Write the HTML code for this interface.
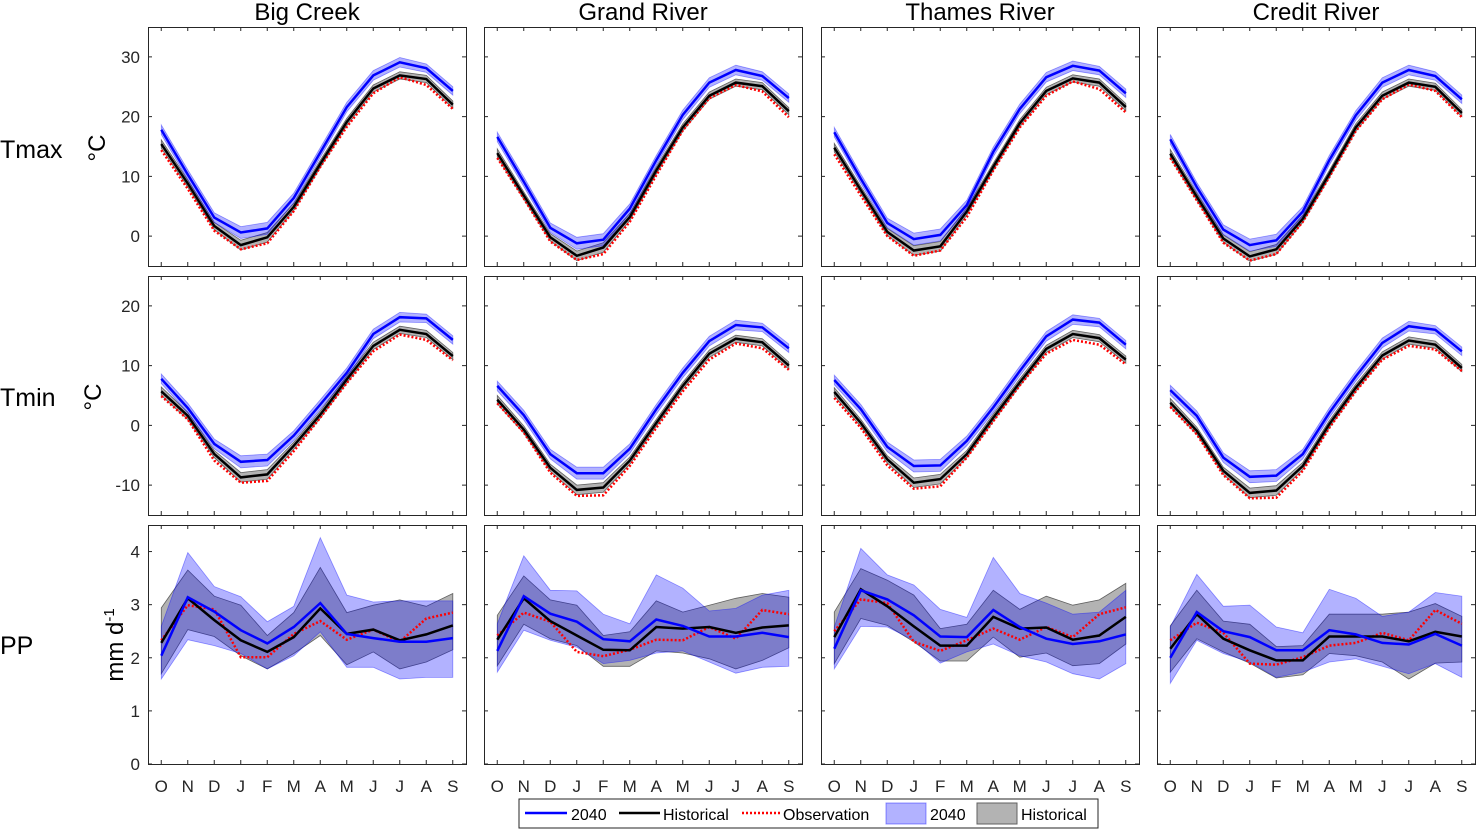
<!DOCTYPE html>
<html><head><meta charset="utf-8"><style>
html,body{margin:0;padding:0;background:#fff;}
svg{display:block;font-family:"Liberation Sans",Arial,sans-serif;}
</style></head><body>
<svg id="fig" width="1476" height="829" viewBox="0 0 1476 829">
<g id="panels"></g>
<g>
<rect x="519" y="799" width="579" height="29" fill="#fff" stroke="#262626" stroke-width="1"/>
<g><line x1="525" y1="813" x2="567" y2="813" stroke="#0000ff" stroke-width="2.5"/><text x="571" y="820" font-size="16" fill="#000">2040</text></g>
<g><line x1="619" y1="813" x2="660" y2="813" stroke="#000" stroke-width="2.5"/><text x="663" y="820" font-size="16" fill="#000">Historical</text></g>
<g><line x1="742" y1="813" x2="780" y2="813" stroke="#ff0000" stroke-width="2.5" stroke-dasharray="2 2"/><text x="783" y="820" font-size="16" fill="#000">Observation</text></g>
<g><rect x="886" y="803" width="40" height="21" fill="#0000ff" fill-opacity="0.3" stroke="#0000ff" stroke-opacity="0.4"/><text x="930" y="820" font-size="16" fill="#000">2040</text></g>
<g><rect x="977" y="803" width="40" height="21" fill="#808080" fill-opacity="0.6" stroke="#606060"/><text x="1021" y="820" font-size="16" fill="#000">Historical</text></g>
</g>
</svg>
<script>
const rivers=['Big Creek','Grand River','Thames River','Credit River'];
const months=['O','N','D','J','F','M','A','M','J','J','A','S'];
const tmaxTicks=[0,10,20,30];
const tminTicks=[-10,0,10,20];
const ppTicks=[0,1,2,3,4];

const tmax2040=[[17.8,10.3,3.1,0.6,1.3,6.4,14.0,21.6,26.9,29.1,28.1,24.3],[16.6,9.1,1.4,-1.2,-0.6,4.6,12.7,20.3,25.7,27.8,26.8,23.1],[17.4,9.6,2.2,-0.5,0.2,5.2,14.1,21.3,26.6,28.5,27.7,23.9],[16.2,8.2,1.1,-1.5,-0.7,4.1,12.7,20.2,25.7,27.8,26.8,22.9]];
const tmaxHist=[[15.4,8.8,1.7,-1.5,-0.2,4.9,12.1,19.1,24.7,26.9,26.3,22.0],[13.9,6.8,-0.2,-3.3,-1.9,3.2,11.0,18.2,23.5,25.7,25.1,20.9],[14.8,7.7,0.7,-2.4,-1.7,4.1,11.6,18.9,24.3,26.4,25.7,21.6],[13.8,6.6,-0.4,-3.4,-2.2,2.9,10.4,18.2,23.5,25.7,25.0,20.6]];
const tmaxObs=[[14.4,7.9,0.9,-2.2,-1.2,4.2,11.6,18.3,23.9,26.6,25.3,21.3],[13.1,6.3,-0.9,-4.0,-3.0,2.4,10.2,17.7,23.1,25.3,24.2,19.9],[13.7,6.8,0.0,-3.3,-2.4,3.2,11.0,18.2,23.5,25.9,24.6,20.7],[13.1,6.0,-1.1,-4.1,-3.0,2.4,9.9,17.6,22.9,25.4,24.3,19.9]];

const tmin2040=[[7.8,2.9,-3.1,-6.1,-5.8,-1.7,3.5,8.8,15.3,18.1,17.9,14.3],[6.6,1.7,-4.8,-8.0,-8.0,-3.9,2.7,8.8,14.1,16.8,16.4,12.9],[7.6,2.7,-3.6,-6.8,-6.7,-2.6,3.0,9.1,14.9,17.7,17.2,13.5],[5.9,1.6,-5.4,-8.6,-8.4,-4.8,2.1,8.2,13.8,16.6,16.0,12.4]];
const tminHist=[[5.7,1.6,-4.8,-8.7,-8.2,-3.4,1.8,7.7,13.3,16.0,15.3,11.6],[4.3,-0.7,-7.1,-10.8,-10.4,-5.9,0.4,6.6,12.0,14.5,13.9,10.0],[5.6,0.4,-5.7,-9.6,-9.0,-4.8,1.3,7.2,12.8,15.3,14.6,11.0],[3.8,-0.9,-7.6,-11.3,-10.9,-6.8,0.2,6.3,11.7,14.2,13.5,9.6]];
const tminObs=[[4.9,1.0,-5.9,-9.6,-9.3,-4.3,1.3,7.1,12.4,15.2,14.3,10.9],[3.7,-1.2,-7.9,-11.8,-11.7,-6.8,-0.4,5.7,11.0,13.7,12.9,9.3],[4.6,-0.4,-6.7,-10.6,-10.2,-5.4,0.7,6.7,12.0,14.3,13.5,10.2],[3.1,-1.5,-8.3,-12.2,-12.1,-7.6,-0.4,5.7,11.0,13.3,12.7,9.1]];

const tSpread2040=[0.8,0.8,0.8,1.0,1.0,0.8,0.8,0.8,0.8,0.8,0.7,0.7];
const tSpreadHist=[0.7,0.6,0.6,0.8,0.8,0.6,0.6,0.6,0.6,0.6,0.6,0.6];

const pp2040=[[2.04,3.14,2.87,2.52,2.27,2.58,3.03,2.45,2.37,2.30,2.30,2.37],[2.13,3.16,2.83,2.68,2.35,2.31,2.72,2.60,2.40,2.40,2.47,2.39],[2.17,3.27,3.10,2.80,2.40,2.39,2.90,2.58,2.36,2.26,2.31,2.44],[2.00,2.86,2.50,2.39,2.14,2.14,2.52,2.44,2.28,2.25,2.45,2.23]];
const ppHist=[[2.28,3.12,2.71,2.33,2.11,2.39,2.93,2.45,2.53,2.33,2.44,2.61],[2.34,3.12,2.69,2.42,2.15,2.14,2.58,2.55,2.58,2.47,2.57,2.61],[2.39,3.29,2.97,2.59,2.23,2.23,2.77,2.55,2.57,2.34,2.42,2.77],[2.17,2.82,2.36,2.14,1.95,1.95,2.40,2.40,2.40,2.31,2.49,2.40]];
const ppObs=[[2.33,2.99,2.91,2.01,2.01,2.45,2.69,2.34,2.53,2.30,2.74,2.85],[2.42,2.85,2.68,2.11,2.03,2.15,2.34,2.33,2.58,2.36,2.90,2.82],[2.50,3.10,3.03,2.30,2.13,2.33,2.55,2.34,2.58,2.39,2.82,2.95],[2.33,2.66,2.47,1.89,1.87,2.01,2.23,2.28,2.47,2.33,2.90,2.64]];
const pp2040Upper=[[2.59,3.98,3.34,3.15,2.68,2.97,4.26,3.18,3.05,3.07,3.07,3.07],[2.64,3.92,3.27,3.26,2.82,2.64,3.56,3.31,2.88,2.93,3.18,3.27],[2.58,4.06,3.56,3.37,2.91,2.76,3.89,3.21,3.03,2.82,2.86,3.27],[2.58,3.57,2.97,2.99,2.58,2.47,3.29,3.12,2.78,2.86,3.23,3.16]];
const pp2040Lower=[[1.60,2.34,2.23,2.08,1.79,2.04,2.49,1.82,1.82,1.60,1.63,1.63],[1.73,2.52,2.33,2.20,1.89,1.95,2.09,2.13,1.92,1.71,1.82,1.84],[1.79,2.59,2.58,2.33,1.90,2.11,2.26,2.04,1.92,1.70,1.60,1.89],[1.52,2.33,2.08,1.92,1.63,1.73,1.92,1.98,1.84,1.70,1.89,1.63]];
const ppHistUpper=[[2.94,3.65,3.16,2.99,2.42,2.85,3.70,2.85,2.99,3.09,2.97,3.21],[2.80,3.54,3.09,2.99,2.42,2.49,3.07,2.86,2.99,3.12,3.21,3.14],[2.86,3.68,3.46,3.18,2.55,2.63,3.27,2.91,3.16,2.99,3.09,3.40],[2.60,3.27,2.69,2.63,2.21,2.23,2.82,2.82,2.82,2.86,3.02,2.78]];
const ppHistLower=[[1.70,2.53,2.40,2.04,1.79,2.08,2.42,1.87,2.11,1.79,1.92,2.15],[1.85,2.63,2.36,2.23,1.84,1.84,2.13,2.09,1.98,1.79,1.95,2.19],[1.89,2.74,2.61,2.30,1.94,1.94,2.39,2.01,2.09,1.85,1.89,2.26],[1.73,2.36,2.11,1.90,1.62,1.68,2.08,2.04,1.92,1.60,1.90,1.92]];

const NS='http://www.w3.org/2000/svg';
const root=document.getElementById('panels');
const colX=[148,484,821,1157], PW=318;
const rowY=[27,276,525], PH=239;
const rowsDef=[
 {key:'tmax',min:-5,max:35,ticks:tmaxTicks},
 {key:'tmin',min:-15,max:25,ticks:tminTicks},
 {key:'pp',min:0,max:4.5,ticks:ppTicks}
];
function el(tag,attrs,parent){const e=document.createElementNS(NS,tag);for(const k in attrs)e.setAttribute(k,attrs[k]);(parent||root).appendChild(e);return e;}
function pts(arr,xs,ys){return arr.map((v,i)=>xs(i).toFixed(1)+','+ys(v).toFixed(1)).join(' ');}
function band(up,lo,xs,ys){return pts(up,xs,ys)+' '+lo.map((v,i)=>[i,v]).reverse().map(p=>xs(p[0]).toFixed(1)+','+ys(p[1]).toFixed(1)).join(' ');}

rowsDef.forEach((rd,r)=>{
 rivers.forEach((rv,c)=>{
  const px=colX[c], py=rowY[r];
  const xs=i=>px+(i+0.5)/12*PW;
  const ys=v=>py+PH-(v-rd.min)/(rd.max-rd.min)*PH;
  const g=el('g',{});
  
  
  const clip='clip'+r+c;
  const cp=el('clipPath',{id:clip},g); el('rect',{x:px,y:py,width:PW,height:PH},cp);
  const plot=el('g',{'clip-path':'url(#'+clip+')'},g);
  let m2040,mHist,mObs,u40,l40,uH,lH;
  if(rd.key==='pp'){m2040=pp2040[c];mHist=ppHist[c];mObs=ppObs[c];u40=pp2040Upper[c];l40=pp2040Lower[c];uH=ppHistUpper[c];lH=ppHistLower[c];}
  else{
   const A=rd.key==='tmax'?[tmax2040,tmaxHist,tmaxObs]:[tmin2040,tminHist,tminObs];
   m2040=A[0][c];mHist=A[1][c];mObs=A[2][c];
   u40=m2040.map((v,i)=>v+tSpread2040[i]);l40=m2040.map((v,i)=>v-tSpread2040[i]);
   uH=mHist.map((v,i)=>v+tSpreadHist[i]);lH=mHist.map((v,i)=>v-tSpreadHist[i]);
  }
  const hb=el('polygon',{points:band(uH,lH,xs,ys),fill:'#808080','fill-opacity':0.6,stroke:'#606060','stroke-width':0.8},plot);
  
  
  const bb=el('polygon',{points:band(u40,l40,xs,ys),fill:'#0000ff','fill-opacity':0.3,stroke:'#0000ff','stroke-opacity':0.4,'stroke-width':0.8},plot);
  
  
  const lo=el('polyline',{points:pts(mObs,xs,ys),fill:'none',stroke:'#ff0000','stroke-width':2.5,'stroke-dasharray':'2 2'},plot);
  
  
  const lh=el('polyline',{points:pts(mHist,xs,ys),fill:'none',stroke:'#000','stroke-width':2.5},plot);
  
  
  const lb=el('polyline',{points:pts(m2040,xs,ys),fill:'none',stroke:'#0000ff','stroke-width':2.5},plot);
  
  
  const box=el('rect',{x:px+0.5,y:py+0.5,width:PW,height:PH,fill:'none',stroke:'#262626','stroke-width':1},g);
  
  
  months.forEach((m,i)=>{
   const x=xs(i);
   el('line',{x1:x,y1:py+PH,x2:x,y2:py+PH-4,stroke:'#262626'},g);
   el('line',{x1:x,y1:py,x2:x,y2:py+4,stroke:'#262626'},g);
   if(r===2){
    const t=el('text',{x:x,y:792,'font-size':17,'text-anchor':'middle',fill:'#262626'},g);
    t.textContent=m;
    
    
   }
  });
  rd.ticks.forEach(v=>{
   const y=ys(v);
   el('line',{x1:px,y1:y,x2:px+4,y2:y,stroke:'#262626'},g);
   el('line',{x1:px+PW,y1:y,x2:px+PW-4,y2:y,stroke:'#262626'},g);
   if(c===0){
    const t=el('text',{x:px-8,y:y+6,'font-size':17,'text-anchor':'end',fill:'#262626'},g);
    t.textContent=String(v);
    
    
   }
  });
  if(r===0){
   const t=el('text',{x:px+PW/2,y:20,'font-size':24,'text-anchor':'middle',fill:'#000'},g);
   t.textContent=rv;
   
   
  }
 });
});
const rowLab=[['Tmax',0,158],['Tmin',0,406],['PP',0,654]];
rowLab.forEach(l=>{
 const t=el('text',{x:l[1],y:l[2],'font-size':25,fill:'#000'});
 t.textContent=l[0];
 
 
});
const u1=el('text',{x:0,y:0,'font-size':24,'text-anchor':'middle',fill:'#000',transform:'translate(105,148) rotate(-90)'});
u1.textContent='°C';


const u2=el('text',{x:0,y:0,'font-size':24,'text-anchor':'middle',fill:'#000',transform:'translate(101,397) rotate(-90)'});
u2.textContent='°C';


const u3=el('text',{x:0,y:0,'font-size':24,'text-anchor':'middle',fill:'#000',transform:'translate(123,645) rotate(-90)'});
u3.innerHTML='mm d<tspan dy="-9" font-size="15">-1</tspan>';


</script>
</body></html>
